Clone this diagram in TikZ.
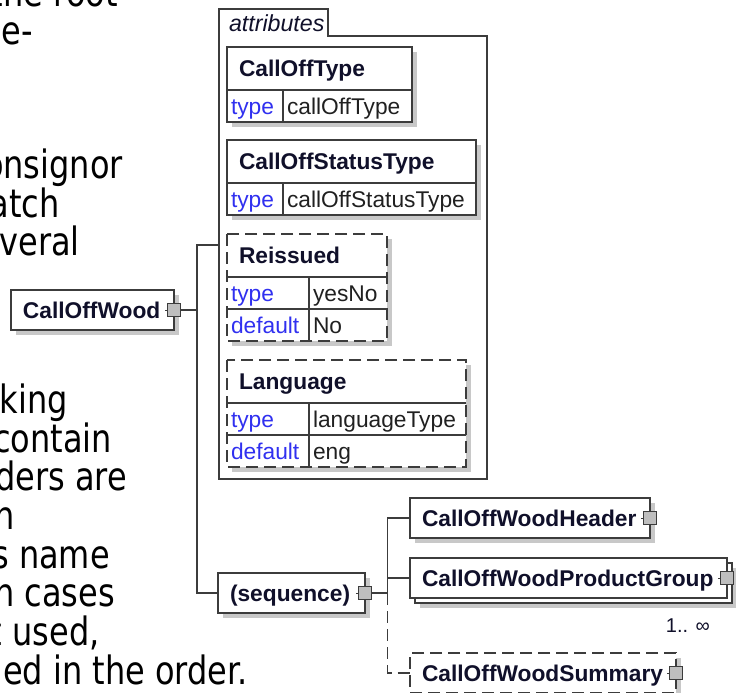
\documentclass[tikz,border=0pt]{standalone}
\usepackage{fontspec}
\setmainfont{Liberation Sans}
\newfontfamily\pagefont{DejaVu Sans}
\usetikzlibrary{positioning,shadows}
\definecolor{inkc}{HTML}{10102A}
\definecolor{keyc}{HTML}{3030F0}
\definecolor{valc}{HTML}{202020}
\definecolor{linec}{HTML}{3C3C3C}
\definecolor{iconc}{HTML}{BEBEBE}
\definecolor{shadowc}{HTML}{C8C8C8}

\begin{document}
\begin{tikzpicture}[x=1pt, y=1pt,
    pagetext/.style={font=\pagefont\fontsize{32}{38}\selectfont, anchor=base east, inner sep=0pt, yscale=1.22, transform shape},
    boxshadow/.style={drop shadow={shadow xshift=5pt, shadow yshift=-5pt, fill=shadowc, opacity=1}},
    elembase/.style={draw=linec, line width=1.2pt, fill=white, anchor=north west, minimum height=40pt, inner xsep=12pt, inner ysep=0pt, outer sep=0pt, text height=17pt, text depth=1pt, align=left, font=\fontsize{22.75}{25}\selectfont\bfseries, text=inkc},
    elem/.style={elembase, boxshadow},
    optelem/.style={elem, dash pattern=on 12pt off 6pt},
    expander/.style={draw=linec, line width=1pt, fill=iconc, minimum size=13pt, inner sep=0pt, outer sep=0pt},
    head/.style={fill=white, anchor=north west, minimum height=43pt, inner xsep=12pt, inner ysep=0pt, outer sep=0pt, text height=17pt, text depth=1pt, align=left, font=\fontsize{22.75}{25}\selectfont\bfseries, text=inkc, boxshadow},
    keycell/.style={fill=white, minimum height=32pt, inner xsep=4pt, inner ysep=0pt, outer sep=0pt, text height=17pt, text depth=1pt, align=left, font=\fontsize{22.75}{25}\selectfont, text=keyc, boxshadow},
    valcell/.style={keycell, text=valc},
    tbl/.style={draw=linec, line width=1.2pt},
    opttbl/.style={tbl, dash pattern=on 12pt off 6pt},
    conn/.style={draw=linec, line width=1.2pt},
    optconn/.style={conn, dash pattern=on 12pt off 6pt}
]
\useasboundingbox (0,0) rectangle (736,-693);

\node[pagetext] (ln1) at (118,-7) {the root};
\node[pagetext] (ln2) at (33,-45) {e-};
\node[pagetext] (ln3) at (123,-178) {onsignor};
\node[pagetext] (ln4) at (60,-217) {atch};
\node[pagetext] (ln5) at (80,-255) {veral};
\node[pagetext] (ln6) at (68,-413) {rking};
\node[pagetext] (ln7) at (112,-452) {contain};
\node[pagetext] (ln8) at (127,-490) {ders are};
\node[pagetext] (ln9) at (15,-529) {n};
\node[pagetext] (ln10) at (110,-568) {s name};
\node[pagetext] (ln11) at (115,-606) {n cases};
\node[pagetext] (ln12) at (100,-645) {t used,};
\node[pagetext] (ln13) at (248,-684) {ed in the order.};

\node[anchor=north west, minimum width=268pt, minimum height=443pt, inner sep=0pt, outer sep=0pt] (attrs) at (219,-36) {};
\node[anchor=south west, minimum height=27pt, text width=99pt, inner xsep=5pt, inner ysep=0pt, outer sep=0pt, text height=19pt, text depth=0pt, align=left, font=\fontsize{23.2}{25}\selectfont\itshape, text=inkc] (attrtab) at (attrs.north west) {\mbox{\hspace*{5pt}attributes}};
\draw[conn] (attrs.south west) -- (attrtab.north west) -- (attrtab.north east) -- (attrtab.south east) -- (attrs.north east) -- (attrs.south east) -- cycle;

\node[head, text width=161pt] (cot) at (227,-47) {CallOffType};
\node[keycell, text width=48pt, anchor=north west] (cotk) at (cot.south west) {type};
\node[valcell, text width=121pt, right=0pt of cotk] (cotv) {callOffType};
\draw[tbl] (cot.north west) rectangle (cotv.south east);
\draw[tbl] (cot.south west) -- (cot.south east);
\draw[tbl] (cotk.north east) -- (cotk.south east);

\node[head, text width=225pt] (cst) at (227,-140) {CallOffStatusType};
\node[keycell, text width=48pt, anchor=north west] (cstk) at (cst.south west) {type};
\node[valcell, text width=185pt, right=0pt of cstk] (cstv) {callOffStatusType};
\draw[tbl] (cst.north west) rectangle (cstv.south east);
\draw[tbl] (cst.south west) -- (cst.south east);
\draw[tbl] (cstk.north east) -- (cstk.south east);

\node[head, text width=136pt] (rei) at (227,-234) {Reissued};
\node[keycell, text width=74pt, anchor=north west] (reik1) at (rei.south west) {type};
\node[valcell, text width=70pt, right=0pt of reik1] (reiv1) {yesNo};
\node[keycell, text width=74pt, anchor=north west] (reik2) at (reik1.south west) {default};
\node[valcell, text width=70pt, right=0pt of reik2] (reiv2) {No};
\draw[opttbl] (rei.north west) rectangle (reiv2.south east);
\draw[tbl] (rei.south west) -- (rei.south east);
\draw[tbl] (reik1.south west) -- (reiv1.south east);
\draw[tbl] (reik1.north east) -- (reik2.south east);

\node[head, text width=215pt] (lan) at (227,-360) {Language};
\node[keycell, text width=74pt, anchor=north west] (lank1) at (lan.south west) {type};
\node[valcell, text width=149pt, right=0pt of lank1] (lanv1) {languageType};
\node[keycell, text width=74pt, anchor=north west] (lank2) at (lank1.south west) {default};
\node[valcell, text width=149pt, right=0pt of lank2] (lanv2) {eng};
\draw[opttbl] (lan.north west) rectangle (lanv2.south east);
\draw[tbl] (lan.south west) -- (lan.south east);
\draw[tbl] (lank1.south west) -- (lanv1.south east);
\draw[tbl] (lank1.north east) -- (lank2.south east);

\node[elem, text width=139pt] (wood) at (11,-290) {CallOffWood};
\node[expander] (woodx) at (wood.east) {};
\node[elem, text width=123pt] (seq) at (218,-573) {(sequence)};
\node[expander] (seqx) at (seq.east) {};

\node[elem, text width=216pt] (hdr) at (410,-498) {CallOffWoodHeader};
\node[expander] (hdrx) at (hdr.east) {};
\node[elem, minimum width=317pt] (pgback) at (415,-563) {};
\node[elembase, text width=293pt] (pg) at (410,-558) {CallOffWoodProductGroup};
\node[expander] (pgx) at (pg.east) {};
\node[font=\fontsize{20}{22}\selectfont, text=inkc, anchor=base east, inner sep=0pt] (pgmult) at ([xshift=-17pt, yshift=-34pt]pg.south east) {1.. ∞};
\node[optelem, text width=242pt] (summ) at (410,-653) {CallOffWoodSummary};
\node[expander] (summx) at (summ.east) {};

\foreach \s in {woodx, seqx, hdrx, pgx, summx}
    \draw[conn, line width=1pt] (\s.west) -- ++(-3,0);

\coordinate (attrjoin) at (197,-245);
\coordinate (seqjoin) at ([xshift=16pt]seqx.east);
\draw[conn] (woodx.east) -- (woodx.east -| attrjoin);
\draw[conn] (attrs.west |- attrjoin) -- (attrjoin) |- (seq.west);
\draw[conn] (seqx.east) -- (seqjoin);
\draw[conn] (hdr.west) -| (seqjoin);
\draw[conn] (pg.west) -- (pg.west -| seqjoin);
\draw[optconn] (seqjoin) |- (summ.west);
\end{tikzpicture}
\end{document}
